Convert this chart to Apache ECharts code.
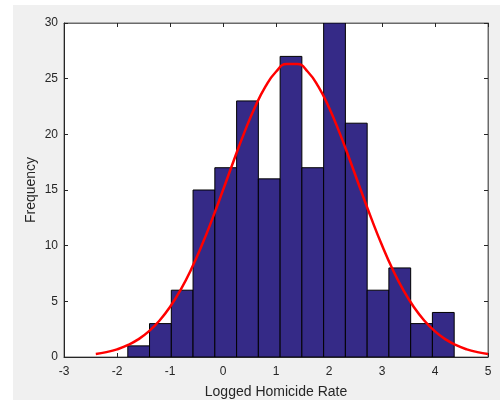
<!DOCTYPE html>
<html>
<head>
<meta charset="utf-8">
<script src="https://cdn.jsdelivr.net/npm/echarts@6/dist/echarts.min.js"></script>
<style>
html,body{margin:0;padding:0;background:#fff;}
#chart{width:500px;height:400px;}
</style>
</head>
<body>
<div id="chart"></div>
<script>
// Histogram bin edges (Logged Homicide Rate) and counts
const binEdges = [-1.796, -1.386, -0.975, -0.565, -0.154, 0.257, 0.667, 1.078, 1.488, 1.899, 2.309, 2.720, 3.130, 3.541, 3.951, 4.362];
const binCounts = [1, 3, 6, 15, 17, 23, 16, 27, 17, 30, 21, 6, 8, 3, 4];
// Fitted curve points
const curveX = [-2.4, -2.2, -2.0, -1.8, -1.6, -1.4, -1.2, -1.0, -0.8, -0.6, -0.4, -0.2, 0.0, 0.2, 0.4, 0.6, 0.8, 1.0, 1.2, 1.4, 1.6, 1.8, 2.0, 2.2, 2.4, 2.6, 2.8, 3.0, 3.2, 3.4, 3.6, 3.8, 4.0, 4.2, 4.4, 4.6, 4.8, 5.0];
const curveY = [0.27, 0.44, 0.69, 1.06, 1.58, 2.30, 3.26, 4.49, 6.03, 7.88, 10.03, 12.43, 14.99, 17.61, 20.13, 22.41, 24.28, 25.62, 26.31, 26.31, 25.62, 24.28, 22.41, 20.13, 17.61, 14.99, 12.43, 10.03, 7.88, 6.03, 4.49, 3.26, 2.30, 1.58, 1.06, 0.69, 0.44, 0.27];
// Axis ticks
const xTicks = [-3, -2, -1, 0, 1, 2, 3, 4, 5];
const yTicks = [0, 5, 10, 15, 20, 25, 30];

const histData = binCounts.map((c, i) => [binEdges[i], binEdges[i + 1], c]);
const curveData = curveX.map((x, i) => [x, curveY[i]]);

const chart = echarts.init(document.getElementById('chart'), null, {renderer: 'canvas'});
const axisCol = '#262626';
const font = 'Liberation Sans, Arial, Helvetica, sans-serif';

const xBase = {
  type: 'value', min: xTicks[0], max: xTicks[xTicks.length - 1], interval: 1,
  splitLine: {show: false}
};
const yBase = {
  type: 'value', min: yTicks[0], max: yTicks[yTicks.length - 1], interval: 5,
  splitLine: {show: false}
};

chart.setOption({
  animation: false,
  backgroundColor: '#ffffff',
  graphic: [{
    type: 'rect', left: 13, top: 5, z: -10,
    shape: {width: 487, height: 395},
    style: {fill: '#f0f0f0'}
  }],
  grid: {
    left: 64, right: 12, top: 23, bottom: 43,
    outerBoundsMode: 'none', containLabel: false,
    show: true, backgroundColor: '#ffffff', borderColor: '#6a6a6a', borderWidth: 1
  },
  xAxis: [
    Object.assign({}, xBase, {
      position: 'bottom',
      name: 'Logged Homicide Rate', nameLocation: 'middle', nameGap: 28, nameMoveOverlap: false,
      nameTextStyle: {fontFamily: font, fontSize: 14, color: axisCol},
      axisLine: {show: true, onZero: false, lineStyle: {color: axisCol, width: 1}},
      axisTick: {show: true, inside: true, length: 4, lineStyle: {color: axisCol}},
      axisLabel: {show: true, margin: 9, fontFamily: font, fontSize: 12, color: axisCol}
    }),
    Object.assign({}, xBase, {
      position: 'top',
      axisLine: {show: true, onZero: false, lineStyle: {color: '#6a6a6a', width: 1}},
      axisTick: {show: true, inside: true, length: 4, lineStyle: {color: axisCol}},
      axisLabel: {show: false}
    })
  ],
  yAxis: [
    Object.assign({}, yBase, {
      position: 'left',
      name: 'Frequency', nameLocation: 'middle', nameGap: 26, nameMoveOverlap: false,
      nameTextStyle: {fontFamily: font, fontSize: 14, color: axisCol},
      axisLine: {show: true, onZero: false, lineStyle: {color: axisCol, width: 1}},
      axisTick: {show: true, inside: true, length: 4, lineStyle: {color: axisCol}},
      axisLabel: {show: true, margin: 6, fontFamily: font, fontSize: 12, color: axisCol}
    }),
    Object.assign({}, yBase, {
      position: 'right',
      axisLine: {show: true, onZero: false, lineStyle: {color: '#6a6a6a', width: 1}},
      axisTick: {show: true, inside: true, length: 4, lineStyle: {color: axisCol}},
      axisLabel: {show: false}
    })
  ],
  series: [
    {
      type: 'custom',
      xAxisIndex: 0, yAxisIndex: 0,
      data: histData,
      clip: true,
      renderItem: function (params, api) {
        const p0 = api.coord([api.value(0), 0]);
        const p1 = api.coord([api.value(1), api.value(2)]);
        return {
          type: 'rect',
          shape: {x: p0[0], y: p1[1], width: p1[0] - p0[0], height: p0[1] - p1[1]},
          style: {fill: '#352a87', stroke: '#000000', lineWidth: 1}
        };
      },
      z: 2
    },
    {
      type: 'line',
      xAxisIndex: 0, yAxisIndex: 0,
      data: curveData,
      smooth: true,
      showSymbol: false,
      lineStyle: {color: '#ff0000', width: 2.5},
      z: 3
    }
  ]
});
</script>
</body>
</html>
